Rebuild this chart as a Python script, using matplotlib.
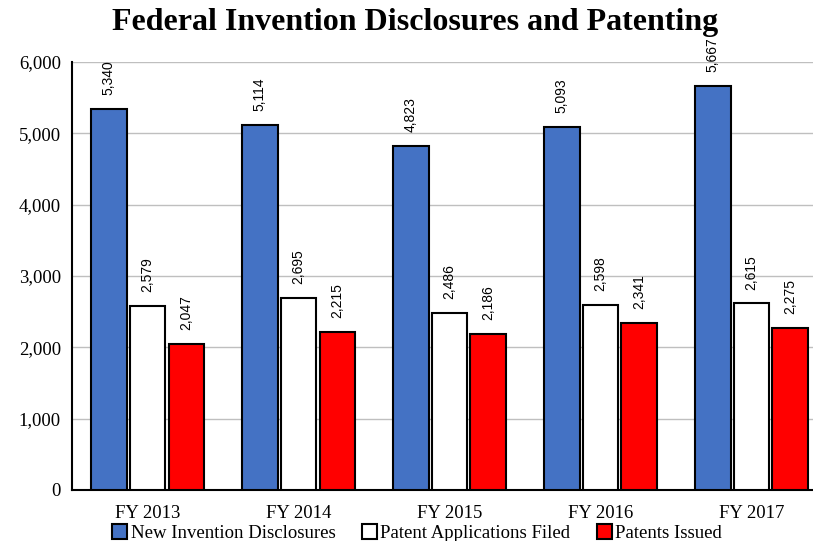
import matplotlib.pyplot as plt
import numpy as np

years = ["FY 2013", "FY 2014", "FY 2015", "FY 2016", "FY 2017"]
disclosures = [5340, 5114, 4823, 5093, 5667]
applications = [2579, 2695, 2486, 2598, 2615]
issued = [2047, 2215, 2186, 2341, 2275]

series = [
    ("New Invention Disclosures", disclosures, "#4472C4"),
    ("Patent Applications Filed", applications, "#FFFFFF"),
    ("Patents Issued", issued, "#FF0000"),
]

fig = plt.figure(figsize=(8.13, 5.41), dpi=100)
ax = fig.add_axes([0.0886, 0.0943, 0.9286, 0.7911])

x = np.arange(len(years))
width = 0.238
step = 0.258

for i, (name, vals, color) in enumerate(series):
    pos = x + (i - 1) * step
    bars = ax.bar(pos, vals, width, color=color, edgecolor="black", linewidth=1.5,
                  label=name, zorder=3)
    for b, v in zip(bars, vals):
        ax.annotate(f"{v:,}", (b.get_x() + b.get_width() / 2, v),
                    xytext=(0, 10), textcoords="offset points",
                    rotation=90, ha="center", va="bottom",
                    fontsize=10, family="Liberation Sans")

ax.set_xlim(-0.5, len(years) - 0.5)
ax.set_ylim(0, 6000)
ax.set_yticks(range(0, 6001, 1000))
ax.set_yticklabels([f"{t:,}" for t in range(0, 6001, 1000)], family="Liberation Serif", fontsize=13.5)
ax.set_xticks(x)
ax.set_xticklabels(years, family="Liberation Serif", fontsize=13.5)
ax.tick_params(length=0, pad=8)
ax.tick_params(axis="x", pad=11)

ax.grid(axis="y", color="#BFBFBF", linewidth=1, zorder=0)
for s in ["top", "right"]:
    ax.spines[s].set_visible(False)
ax.spines["left"].set_linewidth(1.5)
ax.spines["bottom"].set_linewidth(1.5)

fig.suptitle("Federal Invention Disclosures and Patenting", x=0.51, y=0.985,
             family="Liberation Serif", fontweight="bold", fontsize=23)

fig.legend(loc="lower center", bbox_to_anchor=(0.513, -0.033), ncol=3, frameon=False,
           prop={"family": "Liberation Serif", "size": 13.5},
           handlelength=0.8, handleheight=0.8, handletextpad=0.2, columnspacing=1.4)

fig.savefig("out.png", dpi=100)
